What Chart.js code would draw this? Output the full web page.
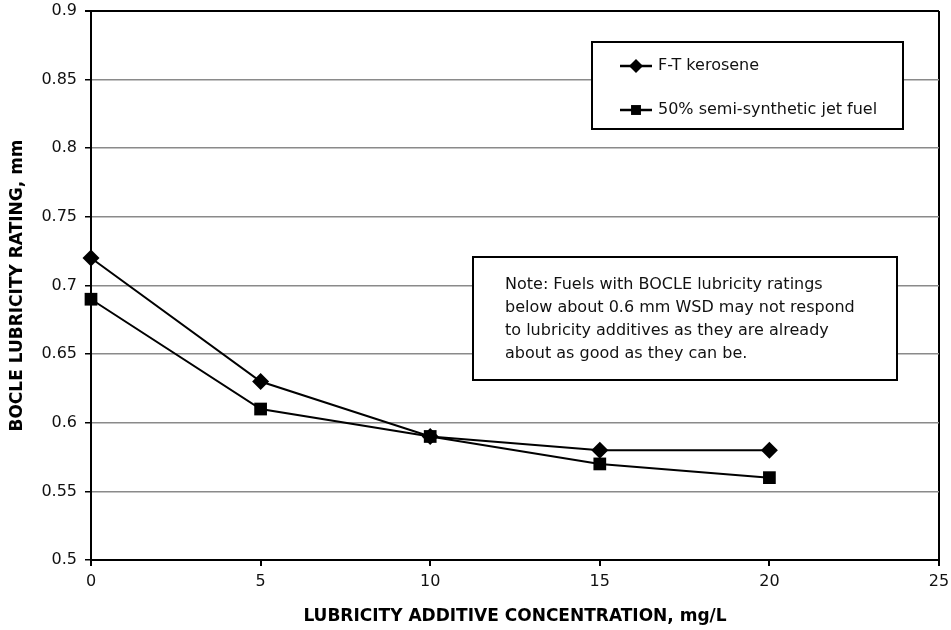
<!DOCTYPE html>
<html>
<head>
<meta charset="utf-8">
<script src="https://cdn.jsdelivr.net/npm/chart.js@4.4.1/dist/chart.umd.min.js"></script>
<style>
  html, body { margin: 0; padding: 0; background: #fff; }
  #wrap { width: 951px; height: 630px; }
</style>
</head>
<body>
<div id="wrap"><canvas id="grafico" width="951" height="630"></canvas></div>
<script>
// valores
const concentracao = [0, 5, 10, 15, 20]
const ftKerosene = [0.72, 0.63, 0.59, 0.58, 0.58]
const semiSintetico = [0.69, 0.61, 0.59, 0.57, 0.56]
const nomesSeries = ['F-T kerosene', '50% semi-synthetic jet fuel']
const textoNota = [
  'Note: Fuels with BOCLE lubricity ratings',
  'below about 0.6 mm WSD may not respond',
  'to lubricity additives as they are already',
  'about as good as they can be.'
]

const fonte = 'DejaVu Sans'

function pontos(valores) {
  return concentracao.map((x, i) => ({ x: x, y: valores[i] }))
}

function marcador(ctx, estilo, x, y, r) {
  ctx.beginPath()
  if (estilo === 'rectRot') {
    ctx.moveTo(x, y - r); ctx.lineTo(x + r, y); ctx.lineTo(x, y + r); ctx.lineTo(x - r, y)
  } else {
    const s = r * Math.SQRT1_2
    ctx.rect(x - s, y - s, 2 * s, 2 * s)
  }
  ctx.closePath()
  ctx.fill()
}

// caixas de legenda e de nota
const caixas = {
  id: 'caixas',
  afterDraw(chart) {
    const ctx = chart.ctx
    ctx.save()
    ctx.lineWidth = 2
    ctx.strokeStyle = '#000'
    ctx.fillStyle = '#fff'

    // legenda
    ctx.fillRect(592, 42, 311, 87)
    ctx.strokeRect(592, 42, 311, 87)
    chart.data.datasets.forEach((ds, i) => {
      const y = 66 + i * 44
      ctx.beginPath()
      ctx.moveTo(620, y); ctx.lineTo(652, y)
      ctx.lineWidth = 2.5
      ctx.stroke()
      ctx.fillStyle = '#000'
      marcador(ctx, ds.pointStyle, 636, y, 7)
      ctx.fillStyle = '#111'
      ctx.font = '16px ' + fonte
      ctx.textBaseline = 'middle'
      ctx.fillText(ds.label, 658, y)
    })

    // nota
    ctx.lineWidth = 2
    ctx.fillStyle = '#fff'
    ctx.fillRect(473, 257, 424, 123)
    ctx.strokeRect(473, 257, 424, 123)
    ctx.fillStyle = '#111'
    ctx.font = '16px ' + fonte
    ctx.textBaseline = 'middle'
    textoNota.forEach((linha, i) => ctx.fillText(linha, 505, 285 + i * 23))
    ctx.restore()
  }
}

const ctx = document.getElementById('grafico')
new Chart(ctx, {
  type: 'line',
  data: {
    datasets: [
      {
        label: nomesSeries[0],
        data: pontos(ftKerosene),
        borderColor: '#000',
        backgroundColor: '#000',
        borderWidth: 2,
        pointStyle: 'rectRot',
        pointRadius: 8.5,
        pointBorderWidth: 0,
        tension: 0,
        clip: false
      },
      {
        label: nomesSeries[1],
        data: pontos(semiSintetico),
        borderColor: '#000',
        backgroundColor: '#000',
        borderWidth: 2,
        pointStyle: 'rect',
        pointRadius: 9,
        pointBorderWidth: 0,
        tension: 0,
        clip: false
      }
    ]
  },
  options: {
    responsive: false,
    animation: false,
    layout: { padding: { top: 11, right: 12, left: 0, bottom: 0 } },
    plugins: {
      legend: { display: false },
      tooltip: { enabled: false }
    },
    scales: {
      x: {
        type: 'linear',
        min: 0,
        max: 25,
        afterFit: s => { s.height = 70; s.paddingLeft = 0; s.paddingRight = 0 },
        ticks: {
          stepSize: 5,
          color: '#111',
          padding: 6,
          font: { family: fonte, size: 16 }
        },
        grid: {
          color: c => c.tick && c.tick.value === 25 ? '#000' : 'rgba(0,0,0,0)',
          lineWidth: 2,
          tickColor: '#000',
          tickLength: 6
        },
        border: { color: '#000', width: 2 },
        title: {
          display: true,
          text: 'LUBRICITY ADDITIVE CONCENTRATION, mg/L',
          color: '#000',
          font: { family: fonte, size: 17, weight: 'bold' },
          padding: { top: 0, bottom: 3 }
        }
      },
      y: {
        min: 0.5,
        max: 0.9,
        afterFit: s => { s.width = 91; s.paddingTop = 0; s.paddingBottom = 0 },
        ticks: {
          stepSize: 0.05,
          color: '#111',
          padding: 8,
          font: { family: fonte, size: 16 },
          callback: v => String(parseFloat(v.toFixed(2)))
        },
        grid: {
          color: c => c.tick && c.tick.value > 0.89 ? '#000' : '#8a8a8a',
          lineWidth: c => c.tick && c.tick.value > 0.89 ? 2 : 1.5,
          tickColor: '#000',
          tickLength: 6
        },
        border: { color: '#000', width: 2 },
        title: {
          display: true,
          text: 'BOCLE LUBRICITY RATING, mm',
          color: '#000',
          font: { family: fonte, size: 17, weight: 'bold' },
          padding: { top: 7, bottom: 0 }
        }
      }
    }
  },
  plugins: [caixas]
})
</script>
</body>
</html>
